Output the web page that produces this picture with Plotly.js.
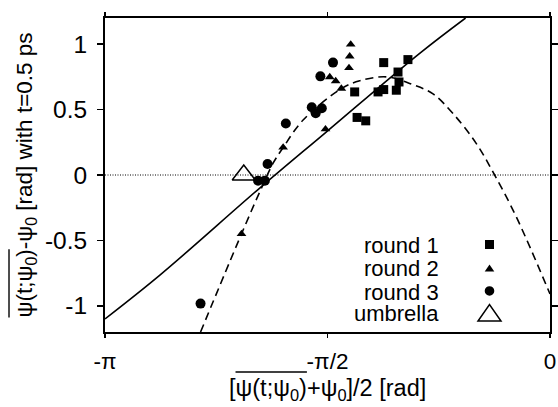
<!DOCTYPE html>
<html>
<head>
<meta charset="utf-8">
<script src="https://cdn.plot.ly/plotly-3.0.1.min.js"></script>
<style>html,body{margin:0;padding:0;background:#fff;}#chart{width:558px;height:407px;}</style>
</head>
<body>
<div id="chart"></div>
<script>
// ---- data ----
const xTickVals = [-Math.PI, -Math.PI / 2, 0];
const xTickText = ["-π", "-π/2", "0"];
const yTickVals = [-1, -0.5, 0, 0.5, 1];
const yTickText = ["-1", "-0.5", "0", "0.5", "1"];

const seriesNames = ["round 1", "round 2", "round 3", "umbrella"];
const xTitle = '[ψ(t;ψ<sub>0</sub>)+ψ<sub>0</sub>]/2 [rad]';
const yTitle = 'ψ(t;ψ<sub>0</sub>)-ψ<sub>0</sub> [rad] with t=0.5 ps';

// round 1 (squares)
const r1x = [-1.379, -1.362, -1.301, -1.214, -1.174, -1.174, -1.085, -1.066, -1.073, -1.003];
const r1y = [0.635, 0.440, 0.414, 0.635, 0.653, 0.859, 0.648, 0.711, 0.787, 0.882];
// round 2 (triangles)
const r2x = [-1.407, -1.414, -1.419, -1.555, -1.513, -1.473, -1.585, -1.884, -2.178];
const r2y = [0.998, 0.907, 0.818, 0.749, 0.718, 0.661, 0.350, 0.211, -0.450];
// round 3 (circles)
const r3x = [-1.532, -1.621, -1.682, -1.654, -1.611, -1.865, -1.994, -2.061, -2.013, -2.467];
const r3y = [0.859, 0.754, 0.518, 0.472, 0.510, 0.394, 0.084, -0.043, -0.043, -0.983];
// umbrella (open triangle)
const umbX = [-2.162];
const umbY = [0.0];

// solid line
const lineX = [-3.1416, -2.754, -2.049, -1.578, -0.920, -0.596];
const lineY = [-1.10, -0.765, -0.10, 0.33, 0.93, 1.2];
// dashed curve
const dashX = [-2.467, -2.178, -2.037, -1.955, -1.884, -1.743, -1.473, -1.343, -1.155, -0.968, -0.826, -0.685, -0.520, -0.391, -0.238, 0.0];
const dashY = [-1.20, -0.45, -0.10, 0.09, 0.21, 0.42, 0.66, 0.72, 0.75, 0.69, 0.62, 0.47, 0.24, 0.0, -0.32, -0.91];

const FONT = "Liberation Sans, Arial, Helvetica, sans-serif";
const FS = 22;

const traces = [
  {x: lineX, y: lineY, mode: "lines", line: {color: "#000", width: 1.6, shape: "spline", smoothing: 1}, showlegend: false, hoverinfo: "skip"},
  {x: dashX, y: dashY, mode: "lines", line: {color: "#000", width: 1.6, dash: "8px,5px", shape: "spline", smoothing: 1}, showlegend: false, hoverinfo: "skip"},
  {x: r1x, y: r1y, name: seriesNames[0], mode: "markers", marker: {symbol: "square", size: 9, color: "#000"}, showlegend: false},
  {x: r2x, y: r2y, name: seriesNames[1], mode: "markers", marker: {symbol: "triangle-up", size: 8.5, color: "#000"}, showlegend: false},
  {x: r3x, y: r3y, name: seriesNames[2], mode: "markers", marker: {symbol: "circle", size: 10, color: "#000"}, showlegend: false},
  {x: umbX, y: umbY, name: seriesNames[3], mode: "markers", marker: {symbol: "triangle-up-open", size: 20, color: "#000", line: {width: 1.5, color: "#000"}}, showlegend: false}
];

// legend (text on the left, symbol on the right, gnuplot style)
const L = 105, R = 550, T = 17.5, B = 332.5;
const px2x = p => (p - L) / (R - L);
const py2y = p => (B - p) / (B - T);
const legTextX = px2x(441);
const legSymX = px2x(489.5);
const rowText = [245.5, 269, 292.5, 313.5];
const rowSym = [244.7, 268.5, 291.3, 313.5];

const annotations = seriesNames.map((n, i) => ({
  text: n, xref: "paper", yref: "paper", x: legTextX, y: py2y(rowText[i]),
  xanchor: "right", yanchor: "middle", showarrow: false,
  font: {family: FONT, size: FS, color: "#000"}
}));
// x-axis title (as an annotation so it can sit as low as in the reference)
annotations.push({
  text: xTitle, xref: "paper", yref: "paper", x: 0.5, y: py2y(406.5),
  xanchor: "center", yanchor: "bottom", showarrow: false,
  font: {family: FONT, size: 23.5, color: "#000"}
});

const shapes = [
  {type: "line", xref: "paper", yref: "y", x0: 0, x1: 1, y0: 0, y1: 0, line: {color: "#000", width: 1, dash: "1px,1.5px"}, layer: "below"},
  {type: "rect", xref: "paper", yref: "paper", xsizemode: "pixel", ysizemode: "pixel", xanchor: legSymX, yanchor: py2y(rowSym[0]),
   x0: -4.5, x1: 4.5, y0: -4.5, y1: 4.5, fillcolor: "#000", line: {width: 0}},
  {type: "path", xref: "paper", yref: "paper", xsizemode: "pixel", ysizemode: "pixel", xanchor: legSymX, yanchor: py2y(rowSym[1]),
   path: "M-4.8,-3.3 L4.8,-3.3 L0,3.6 Z", fillcolor: "#000", line: {width: 0}},
  {type: "circle", xref: "paper", yref: "paper", xsizemode: "pixel", ysizemode: "pixel", xanchor: legSymX, yanchor: py2y(rowSym[2]),
   x0: -4.8, x1: 4.8, y0: -4.8, y1: 4.8, fillcolor: "#000", line: {width: 0}},
  {type: "path", xref: "paper", yref: "paper", xsizemode: "pixel", ysizemode: "pixel", xanchor: legSymX, yanchor: py2y(rowSym[3]),
   path: "M-11.5,-8 L11.5,-8 L0,8.5 Z", fillcolor: "rgba(0,0,0,0)", line: {width: 1.5, color: "#000"}}
];

const layout = {
  width: 558, height: 407,
  margin: {l: 105, r: 8, t: 17.5, b: 74.5},
  paper_bgcolor: "#fff", plot_bgcolor: "#fff",
  font: {family: FONT, size: FS, color: "#000"},
  showlegend: false,
  xaxis: {
    range: [-Math.PI, 0], tickvals: xTickVals, ticktext: xTickText,
    showgrid: false, zeroline: false, showline: true, linecolor: "#000", linewidth: 2, mirror: "ticks",
    ticks: "outside", ticklen: 4, tickwidth: 1.5, tickcolor: "#000", ticklabelstandoff: 4,
    tickfont: {family: FONT, size: 22.5}
  },
  yaxis: {
    range: [-1.2, 1.2], tickvals: yTickVals, ticktext: yTickText,
    showgrid: false, zeroline: false, showline: true, linecolor: "#000", linewidth: 2, mirror: "ticks",
    ticks: "outside", ticklen: 6, tickwidth: 1.5, tickcolor: "#000", ticklabelstandoff: 5,
    tickfont: {family: FONT, size: 24.5},
    title: {text: yTitle, font: {family: FONT, size: 22.5}, standoff: 6}
  },
  annotations: annotations,
  shapes: shapes
};

// overline over the time-averaged ψ(t;ψ0) in the axis titles
function addOverline(t, gap) {
  if (!t) return;
  const s = t.textContent;
  const i0 = s.indexOf("ψ");
  const i1 = s.indexOf(")");
  if (i0 < 0 || i1 < 0) return;
  try {
    const a = t.getStartPositionOfChar(i0);
    const b = t.getEndPositionOfChar(i1);
    const e = t.getExtentOfChar(i0);
    const y = e.y - gap;
    const ln = document.createElementNS("http://www.w3.org/2000/svg", "line");
    ln.setAttribute("x1", a.x); ln.setAttribute("x2", b.x);
    ln.setAttribute("y1", y); ln.setAttribute("y2", y);
    ln.setAttribute("stroke", "#000"); ln.setAttribute("stroke-width", "1.4");
    const tr = t.getAttribute("transform");
    if (tr) ln.setAttribute("transform", tr);
    t.parentNode.appendChild(ln);
  } catch (err) {}
}

Plotly.newPlot("chart", traces, layout, {displayModeBar: false, staticPlot: true}).then(gd => {
  const xt = Array.from(gd.querySelectorAll("text.annotation-text")).find(el => el.textContent.indexOf("[rad]") >= 0);
  addOverline(xt, 3);
  addOverline(gd.querySelector("text.ytitle"), 3);
});
</script>
</body>
</html>
